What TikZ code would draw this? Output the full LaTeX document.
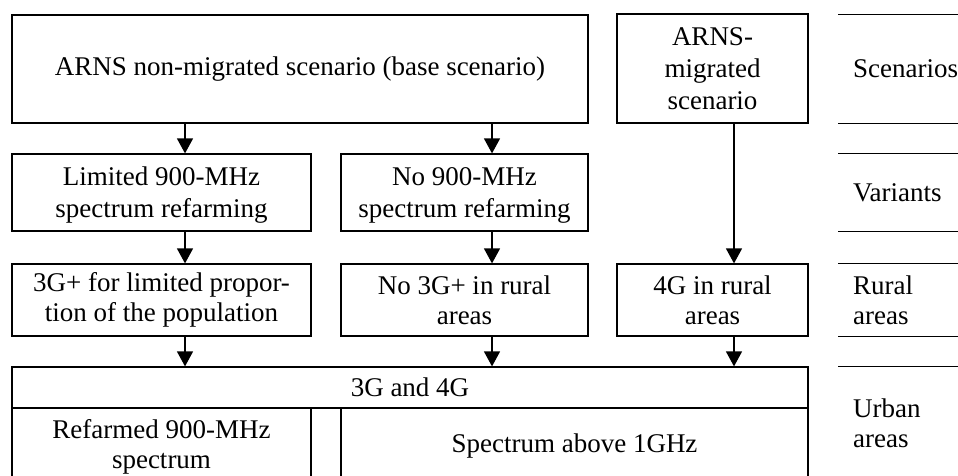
\documentclass[tikz,border=0pt]{standalone}
\usepackage{fontspec}
\setmainfont{Liberation Serif}
\usetikzlibrary{arrows.meta}

\begin{document}
\begin{tikzpicture}[x=1pt,y=-1pt,
  every node/.style={font=\fontsize{27}{30}\selectfont},
  box/.style={draw, line width=1.2pt, inner sep=0pt, align=center},
  arr/.style={line width=1.3pt, -{Triangle[width=16pt,length=15pt]}},
  band/.style={anchor=west, inner xsep=15pt, inner ysep=0pt, text width=110pt,
               align=left},
  rule/.style={line width=1.2pt}]

\useasboundingbox (0,0) rectangle (958,476);
\clip (0,0) rectangle (958,476);

% scenarios
\node[box, minimum width=576, minimum height=108] (base) at (300,69)
  {ARNS non-migrated scenario (base scenario)};
\node[box, minimum width=191, minimum height=109] (mig) at (712.5,68.5)
  {ARNS-\\[2pt]migrated\\[2pt]scenario};

% variants
\node[box, minimum width=299, minimum height=77] (lim) at (161.5,192.5)
  {\rule{0pt}{24pt}Limited 900-MHz\\[2pt]spectrum refarming};
\node[box, minimum width=247, minimum height=77] (nol) at (464.5,192.5)
  {\rule{0pt}{24pt}No 900-MHz\\[2pt]spectrum refarming};

% rural areas
\node[box, minimum width=299, minimum height=72] (r1) at (161.5,300)
  {3G+ for limited propor-\\tion of the population};
\node[box, minimum width=247, minimum height=72] (r2) at (464.5,300)
  {No 3G+ in rural\\areas};
\node[box, minimum width=191, minimum height=72] (r3) at (712.5,300)
  {4G in rural\\areas};

% urban areas
\node[box, minimum width=796, minimum height=41] (urb) at (410,387.5) {3G and 4G};
\node[box, minimum width=299, minimum height=77] (u1) at (161.5,446.5)
  {Refarmed 900-MHz\\spectrum};
\node[box, minimum width=30, minimum height=77] (u0) at (326,446.5) {};
\node[box, minimum width=467, minimum height=77] (u2) at (574.5,446.5)
  {Spectrum above 1GHz};

% arrow columns
\coordinate (c1) at (185,0);
\coordinate (c2) at (492,0);
\coordinate (c3) at (734,0);

\draw[arr] (base.south -| c1) -- (lim.north -| c1);
\draw[arr] (base.south -| c2) -- (nol.north -| c2);
\draw[arr] (mig.south -| c3) -- (r3.north -| c3);
\draw[arr] (lim.south -| c1) -- (r1.north -| c1);
\draw[arr] (nol.south -| c2) -- (r2.north -| c2);
\draw[arr] (r1.south -| c1) -- (urb.north -| c1);
\draw[arr] (r2.south -| c2) -- (urb.north -| c2);
\draw[arr] (r3.south -| c3) -- (urb.north -| c3);

% level labels on the right
\node[band, minimum height=108] (lscen) at (838,69) {Scenarios};
\node[band, minimum height=77] (lvar) at (838,192.5) {Variants};
\node[band, minimum height=72] (lrur) at (838,300) {Rural\\areas};
\node[band, minimum height=112] (lurb) at (838,423) {Urban\\areas};

\foreach \n in {lscen,lvar,lrur,lurb}{
  \draw[rule] (\n.north west) -- (\n.north east);
  \draw[rule] (\n.south west) -- (\n.south east);
}
\end{tikzpicture}
\end{document}
